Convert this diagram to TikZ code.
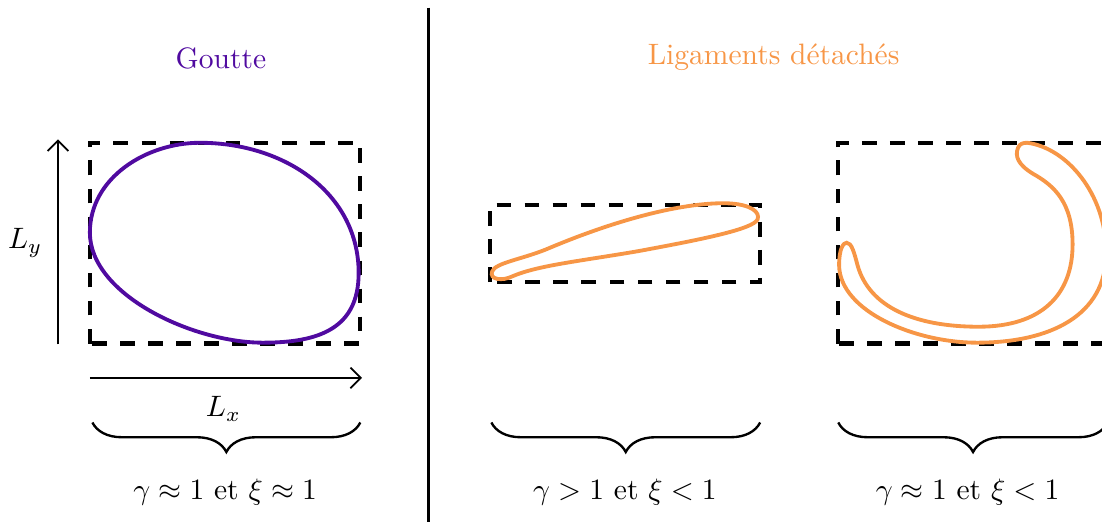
\documentclass[tikz,border=0pt]{standalone}
\usepackage{amsmath}
\usetikzlibrary{arrows.meta,decorations.pathreplacing}
\definecolor{goutte}{RGB}{80,10,160}
\definecolor{lig}{RGB}{247,150,70}

\begin{document}
\begin{tikzpicture}[
    cadre/.style={line width=1.4pt, dash pattern=on 5pt off 4.5pt},
    fleche/.style={semithick, -{Straight Barb[length=3.5pt,width=7pt]}},
    accolade/.style={thick, decorate, decoration={brace, mirror, amplitude=10pt}},
    forme/.style={line width=1.3pt}]
    \useasboundingbox (0,0) rectangle (13.12,6.21);

    % separation
    \coordinate (sep-h) at (5.10,6.12);
    \coordinate (sep-b) at (5.10,0);
    \draw[line width=1.1pt] (sep-h) -- (sep-b);

    % titres
    \node[text=goutte] (titre-g) at (2.63,5.51) {Goutte};
    \node[text=lig] (titre-l) at (9.21,5.53) {Ligaments d\'etach\'es};

    % goutte
    \coordinate (g-sw) at (1.07,2.12);
    \coordinate (g-ne) at (4.29,4.51);
    \draw[cadre] (g-sw) rectangle (g-ne);
    \draw[forme, goutte] (1.07,3.44) .. controls (1.07,4.1) and (1.75,4.51) .. (2.38,4.51)
      .. controls (3.4,4.51) and (4.27,3.9) .. (4.27,2.96)
      .. controls (4.27,2.3) and (3.8,2.13) .. (3.13,2.13)
      .. controls (2.3,2.13) and (1.07,2.7) .. (1.07,3.44) -- cycle;
    \coordinate (ly-a) at (0.69,2.11);
    \coordinate (ly-b) at (0.69,4.55);
    \draw[fleche] (ly-a) -- (ly-b);
    \node (ly) at (0.30,3.32) {$L_y$};
    \coordinate (lx-a) at (1.07,1.71);
    \coordinate (lx-b) at (4.31,1.71);
    \draw[fleche] (lx-a) -- (lx-b);
    \node (lx) at (2.66,1.34) {$L_x$};

    % ligament allonge
    \coordinate (l1-sw) at (5.83,2.85);
    \coordinate (l1-ne) at (9.05,3.77);
    \draw[cadre] (l1-sw) rectangle (l1-ne);
    \draw[forme, lig] (5.86,2.98) .. controls (5.9,3.08) and (6.2,3.12) .. (6.5,3.24)
      .. controls (7.3,3.58) and (8.1,3.8) .. (8.65,3.79)
      .. controls (8.95,3.78) and (9.05,3.68) .. (9.02,3.6)
      .. controls (8.98,3.48) and (8.3,3.35) .. (7.6,3.22)
      .. controls (6.9,3.1) and (6.4,3.05) .. (6.1,2.92)
      .. controls (5.98,2.86) and (5.82,2.88) .. (5.86,2.98) -- cycle;

    % ligament courbe
    \coordinate (l2-sw) at (9.98,2.12);
    \coordinate (l2-ne) at (13.19,4.51);
    \draw[cadre] (l2-sw) rectangle (l2-ne);
    \draw[forme, lig] (12.23,4.51) .. controls (12.7,4.45) and (13.17,3.9) .. (13.17,3.2)
      .. controls (13.17,2.45) and (12.5,2.13) .. (11.63,2.13)
      .. controls (10.9,2.13) and (10.0,2.5) .. (9.99,3.05)
      .. controls (9.99,3.25) and (10.04,3.32) .. (10.08,3.32)
      .. controls (10.14,3.32) and (10.17,3.2) .. (10.21,3.05)
      .. controls (10.35,2.55) and (10.9,2.32) .. (11.65,2.32)
      .. controls (12.4,2.32) and (12.77,2.7) .. (12.77,3.3)
      .. controls (12.77,3.8) and (12.55,4.0) .. (12.3,4.14)
      .. controls (12.12,4.25) and (12.08,4.35) .. (12.12,4.45)
      .. controls (12.14,4.5) and (12.18,4.51) .. (12.23,4.51) -- cycle;

    % accolades
    \coordinate (a1-g) at (1.10,1.18);
    \coordinate (a1-d) at (4.29,1.18);
    \coordinate (a2-g) at (5.85,1.18);
    \coordinate (a2-d) at (9.05,1.18);
    \coordinate (a3-g) at (9.98,1.18);
    \coordinate (a3-d) at (13.19,1.18);
    \draw[accolade] (a1-g) -- (a1-d);
    \draw[accolade] (a2-g) -- (a2-d);
    \draw[accolade] (a3-g) -- (a3-d);
    \node (cond-g) at (2.68,0.35) {$\gamma \approx 1$ et $\xi \approx 1$};
    \node (cond-l1) at (7.44,0.35) {$\gamma > 1$ et $\xi < 1$};
    \node (cond-l2) at (11.52,0.35) {$\gamma \approx 1$ et $\xi < 1$};
  \end{tikzpicture}
\end{document}
